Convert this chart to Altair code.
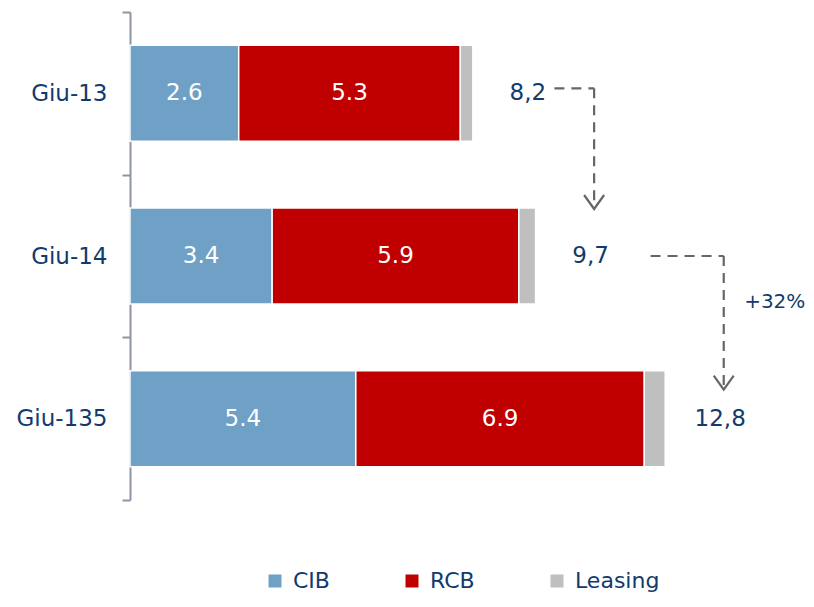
import altair as alt
import pandas as pd

# ---- data ----
periods = ["Giu-13", "Giu-14", "Giu-135"]
segments = ["CIB", "RCB", "Leasing"]
cib = [2.6, 3.4, 5.4]
rcb = [5.3, 5.9, 6.9]
leasing = [0.3, 0.4, 0.5]
total_labels = ["8,2", "9,7", "12,8"]
colors = ["#6FA1C7", "#C00000", "#BFBFBF"]

# growth annotation (dashed elbow arrows)
arrow_from = ["Giu-13", "Giu-14"]
arrow_to = ["Giu-14", "Giu-135"]
arrow_start = [10.15, 12.45]
arrow_turn = [11.1, 14.2]
growth_label = "+32%"
growth_x = 15.42

NAVY = "#113B6E"
GREY = "#666666"
FONT = "DejaVu Sans"
FS = 23

# ---- tables ----
rows = []
for i, p in enumerate(periods):
    for j, (s, vals) in enumerate(zip(segments, [cib, rcb, leasing])):
        v = vals[i]
        rows.append({"period": p, "segment": s, "value": v, "order": j,
                     "label": f"{v:.1f}" if s != "Leasing" else ""})
df = pd.DataFrame(rows)

tot = pd.DataFrame({
    "period": periods,
    "total": [round(a + b + c, 1) for a, b, c in zip(cib, rcb, leasing)],
    "label": total_labels,
})

y_axis = alt.Axis(title=None, labelFontSize=FS, labelColor=NAVY, labelFont=FONT,
                  domainColor="#8E93A6", domainWidth=2, tickColor="#8E93A6",
                  tickWidth=2, tickSize=8, labelPadding=15, tickBand="extent")
y_scale = alt.Scale(domain=periods, paddingInner=0, paddingOuter=0)


def Y(field="period"):
    return alt.Y(f"{field}:N", sort=periods, scale=y_scale, axis=y_axis)


x_scale = alt.Scale(domain=[0, 16], nice=False, zero=True)

bars = alt.Chart(df).mark_bar(height=alt.RelativeBandSize(band=0.59), stroke="white",
                              strokeWidth=1.5).encode(
    x=alt.X("value:Q", stack="zero", scale=x_scale, axis=None),
    y=Y(),
    color=alt.Color("segment:N", scale=alt.Scale(domain=segments, range=colors),
                    legend=alt.Legend(orient="none", legendX=134, legendY=558,
                                      direction="horizontal", title=None,
                                      symbolType="square", symbolSize=169,
                                      symbolStrokeWidth=0, labelFontSize=22,
                                      labelColor=NAVY, labelFont=FONT,
                                      columnPadding=71, labelOffset=7, padding=0,
                                      labelLimit=300)),
    order=alt.Order("order:Q"),
)

seg_labels = alt.Chart(df).transform_stack(
    stack="value", groupby=["period"], as_=["x0", "x1"],
    sort=[alt.SortField("order", order="ascending")]
).transform_calculate(mid="(datum.x0 + datum.x1) / 2").transform_filter(
    "datum.label != ''"
).mark_text(color="white", fontSize=FS, font=FONT, baseline="middle").encode(
    x=alt.X("mid:Q", scale=x_scale, axis=None),
    y=Y(),
    text="label:N",
)

totals = alt.Chart(tot).mark_text(color=NAVY, fontSize=FS, font=FONT, dx=55,
                                  align="center", baseline="middle").encode(
    x=alt.X("total:Q", scale=x_scale, axis=None),
    y=Y(),
    text="label:N",
)

h_offsets = [-5, 0]
tip_offsets = [-47, -29]
arrow_layers = []
for i in range(len(arrow_from)):
    seg = pd.DataFrame({"period": [arrow_from[i]], "dest": [arrow_to[i]],
                        "xs": [arrow_start[i]], "xt": [arrow_turn[i]]})
    tip = pd.DataFrame({"period": [arrow_to[i]], "xt": [arrow_turn[i]]})
    hrule = alt.Chart(seg).mark_rule(yOffset=h_offsets[i], strokeDash=[10, 7],
                                     strokeWidth=2.2, color=GREY).encode(
        x=alt.X("xs:Q", scale=x_scale, axis=None), x2="xt:Q", y=Y())
    vrule = alt.Chart(seg).mark_rule(yOffset=h_offsets[i], y2Offset=tip_offsets[i],
                                     strokeDash=[10, 7], strokeWidth=2.2,
                                     color=GREY).encode(
        x=alt.X("xt:Q", scale=x_scale, axis=None), y=Y(), y2="dest:N")
    head = alt.Chart(tip).mark_point(shape="M-1,-1.4L0,0L1,-1.4", size=400,
                                     filled=False, strokeWidth=2.2, color=GREY,
                                     opacity=1, yOffset=tip_offsets[i]).encode(
        x=alt.X("xt:Q", scale=x_scale, axis=None), y=Y())
    arrow_layers += [hrule, vrule, head]

growth = alt.Chart(pd.DataFrame({"period": ["Giu-14"], "x": [growth_x],
                                 "label": [growth_label]})).mark_text(
    color=NAVY, fontSize=20, font=FONT, align="center", baseline="middle",
    yOffset=46).encode(
    x=alt.X("x:Q", scale=x_scale, axis=None), y=Y(), text="label:N")

chart = alt.layer(bars, seg_labels, totals, *arrow_layers, growth).properties(
    width=669, height=488,
    autosize=alt.AutoSizeParams(type="none"),
    padding={"left": 122, "top": 4, "right": 7, "bottom": 99},
).configure(font=FONT).configure_view(stroke=None)

chart.save("out.html", embed_options={"renderer": "svg", "actions": False})
